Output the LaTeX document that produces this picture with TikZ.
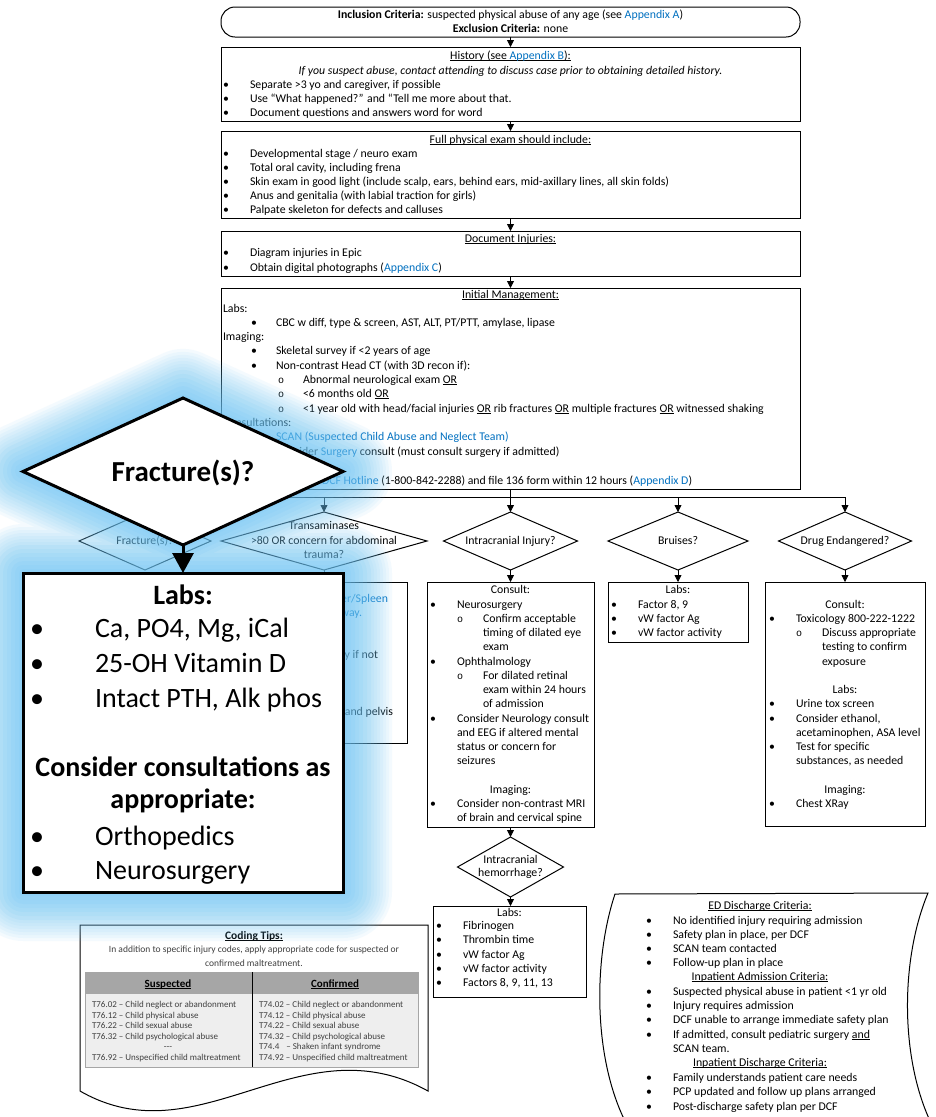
\documentclass[tikz,border=0pt]{standalone}
\usepackage{fontspec}
\setmainfont{Carlito}
\newfontfamily\ringfont{Liberation Mono}
\usetikzlibrary{arrows.meta,shapes.geometric}

\definecolor{linkblue}{RGB}{0,112,192}
\definecolor{glowc}{RGB}{110,198,246}
\definecolor{tipgray}{RGB}{64,64,64}
\definecolor{hdrgray}{RGB}{166,166,166}
\definecolor{rowgray}{RGB}{238,238,238}

\newcommand{\lnk}[1]{\textcolor{linkblue}{#1}}
% underline at a fixed depth below the baseline
\newsavebox{\ulbox}
\newcommand{\uline}[1]{\leavevmode\sbox{\ulbox}{#1}\rlap{\rule[-1.8pt]{\wd\ulbox}{0.6pt}}\usebox{\ulbox}}
\newcounter{txtline}
% one line of text: left aligned, centred, right aligned (x, baseline y, text)
\newcommand{\LineL}[3]{\stepcounter{txtline}\node[txt,anchor=base west] (ln\arabic{txtline}) at (#1,#2) {#3};}
\newcommand{\LineC}[3]{\stepcounter{txtline}\node[txt,anchor=base] (ln\arabic{txtline}) at (#1,#2) {#3};}
\newcommand{\LineR}[3]{\stepcounter{txtline}\node[txt,anchor=base east] (ln\arabic{txtline}) at (#1,#2) {#3};}
% bullet x, text x, baseline y, text
\newcommand{\Bul}[4]{\LineC{#1}{#3}{•}\LineL{#2}{#3}{#4}}
\newcommand{\SubBul}[4]{\LineC{#1}{#3}{{\ringfont\fontsize{10}{10}\selectfont o}}\LineL{#2}{#3}{#4}}
% outline of the magnified callout (diamond + box), used for the glow
\newcommand{\calloutglow}[2]{%
  \path[fill=glowc, draw=glowc, line width=#1, line join=round, opacity=#2]
    (23,471) -- (183,398) -- (343,471) -- (183,545) -- cycle
    (23,573) rectangle (343,892);}

\begin{document}
\begin{tikzpicture}[x=1pt,y=-1pt,
  txt/.style={font=\fontsize{11.8}{14}\selectfont, inner sep=0, outer sep=0},
  box/.style={draw, line width=1pt, inner sep=0, outer sep=0, anchor=north west},
  dia/.style={diamond, draw, line width=1pt, inner sep=0, outer sep=0, fill=white},
  arr/.style={line width=0.8pt, -{Triangle[length=7pt,width=7pt]}},
  link/.style={line width=0.8pt},
  big/.style={font=\fontsize{28}{30}\selectfont, inner sep=0, outer sep=0},
  tip/.style={font=\fontsize{9}{10}\selectfont, text=tipgray, inner sep=0, outer sep=0}]

\fill[white] (0,0) rectangle (935,1117);
\useasboundingbox (0,0) rectangle (935,1117);

% ---------------- entry criteria ----------------
\node[box, rounded corners=14pt, minimum width=579pt, minimum height=30pt] (incl) at (221,7) {};
\LineC{510.5}{18}{\textbf{Inclusion Criteria:} suspected physical abuse of any age (see \lnk{Appendix A})}
\LineC{510.5}{32}{\textbf{Exclusion Criteria:} none}

% ---------------- history ----------------
\node[box, minimum width=579pt, minimum height=74pt] (hist) at (221,47) {};
\LineC{510.5}{59}{\uline{History (see \lnk{Appendix B}):}}
\LineC{510.5}{74}{\textit{If you suspect abuse, contact attending to discuss case prior to obtaining detailed history.}}
\Bul{226}{250}{88}{Separate >3 yo and caregiver, if possible}
\Bul{226}{250}{102}{Use “What happened?” and “Tell me more about that.}
\Bul{226}{250}{116}{Document questions and answers word for word}

% ---------------- physical exam ----------------
\node[box, minimum width=579pt, minimum height=87pt] (exam) at (221,131) {};
\LineC{510.5}{143}{\uline{Full physical exam should include:}}
\Bul{226}{250}{157}{Developmental stage / neuro exam}
\Bul{226}{250}{171}{Total oral cavity, including frena}
\Bul{226}{250}{185}{Skin exam in good light (include scalp, ears, behind ears, mid-axillary lines, all skin folds)}
\Bul{226}{250}{199}{Anus and genitalia (with labial traction for girls)}
\Bul{226}{250}{213}{Palpate skeleton for defects and calluses}

% ---------------- documentation ----------------
\node[box, minimum width=579pt, minimum height=45pt] (docu) at (221,231) {};
\LineC{510.5}{242}{\uline{Document Injuries:}}
\Bul{226}{250}{256}{Diagram injuries in Epic}
\Bul{226}{250}{271}{Obtain digital photographs (\lnk{Appendix C})}

% ---------------- initial management ----------------
\node[box, minimum width=579pt, minimum height=201pt] (init) at (221,288) {};
\LineC{510.5}{298}{\uline{Initial Management:}}
\LineL{223}{312}{Labs:}
\Bul{254}{276}{326}{CBC w diff, type \& screen, AST, ALT, PT/PTT, amylase, lipase}
\LineL{223}{340}{Imaging:}
\Bul{254}{276}{354}{Skeletal survey if <2 years of age}
\Bul{254}{276}{369}{Non-contrast Head CT (with 3D recon if):}
\SubBul{281}{303}{383}{Abnormal neurological exam \uline{OR}}
\SubBul{281}{303}{397}{<6 months old \uline{OR}}
\SubBul{281}{303}{412}{<1 year old with head/facial injuries \uline{OR} rib fractures \uline{OR} multiple fractures \uline{OR} witnessed shaking}
\LineL{223}{426}{Consultations:}
\Bul{254}{276}{440}{\lnk{SCAN (Suspected Child Abuse and Neglect Team)}}
\Bul{254}{276}{455}{Consider \lnk{Surgery} consult (must consult surgery if admitted)}
\LineL{322}{484}{\lnk{DCF Hotline} (1-800-842-2288) and file 136 form within 12 hours (\lnk{Appendix D})}

\draw[arr] (incl.south) -- (hist.north);
\draw[arr] (hist.south) -- (exam.north);
\draw[arr] (exam.south) -- (docu.north);
\draw[arr] (docu.south) -- (init.north);

% ---------------- decision row ----------------
\node[dia, minimum width=132pt, minimum height=58pt] (frD) at (145,541) {};
\node[dia, minimum width=206pt, minimum height=58pt] (trD) at (324,541) {};
\node[dia, minimum width=134pt, minimum height=58pt] (icD) at (510.5,541) {};
\node[dia, minimum width=140pt, minimum height=58pt] (brD) at (678,541) {};
\node[dia, minimum width=133pt, minimum height=58pt] (drD) at (845,541) {};
\LineC{145}{544}{Fracture(s)?}
\LineC{324}{529}{Transaminases}
\LineC{324}{544}{>80 OR concern for abdominal}
\LineC{324}{558}{trauma?}
\LineC{510.5}{544}{Intracranial Injury?}
\LineC{678}{544}{Bruises?}
\LineC{845}{544}{Drug Endangered?}

\coordinate (bus) at (510.5,497);
\draw[link] (init.south) -- (bus);
\draw[link] (frD.north |- bus) -- (drD.north |- bus);
\foreach \d in {frD,trD,icD,brD,drD} \draw[arr] (\d.north |- bus) -- (\d.north);

% ---------------- branch boxes ----------------
\node[box, minimum width=167pt, minimum height=161pt] (trB) at (240,582) {};
\LineR{388}{602}{\lnk{Liver/Spleen}}
\LineR{362}{616}{\lnk{Pathway.}}
\LineR{378}{658}{surgery if not}
\LineR{393}{715}{and pelvis}

\node[box, minimum width=167pt, minimum height=245pt] (icB) at (427,582) {};
\LineC{510.5}{593}{Consult:}
\Bul{433}{457}{608}{Neurosurgery}
\SubBul{460}{483}{622}{Confirm acceptable}
\LineL{483}{636}{timing of dilated eye}
\LineL{483}{650}{exam}
\Bul{433}{457}{665}{Ophthalmology}
\SubBul{460}{483}{679}{For dilated retinal}
\LineL{483}{693}{exam within 24 hours}
\LineL{483}{707}{of admission}
\Bul{433}{457}{722}{Consider Neurology consult}
\LineL{457}{736}{and EEG if altered mental}
\LineL{457}{750}{status or concern for}
\LineL{457}{764}{seizures}
\LineC{510.5}{793}{Imaging:}
\Bul{433}{457}{807}{Consider non-contrast MRI}
\LineL{457}{821}{of brain and cervical spine}

\node[box, minimum width=140pt, minimum height=60pt] (brB) at (608,582) {};
\LineC{678}{593}{Labs:}
\Bul{614}{638}{608}{Factor 8, 9}
\Bul{614}{638}{622}{vW factor Ag}
\Bul{614}{638}{636}{vW factor activity}

\node[box, minimum width=160pt, minimum height=244pt] (drB) at (765,582) {};
\LineC{845}{608}{Consult:}
\Bul{772}{796}{622}{Toxicology 800-222-1222}
\SubBul{799}{822}{636}{Discuss appropriate}
\LineL{822}{650}{testing to confirm}
\LineL{822}{665}{exposure}
\LineC{845}{693}{Labs:}
\Bul{772}{796}{707}{Urine tox screen}
\Bul{772}{796}{722}{Consider ethanol,}
\LineL{796}{736}{acetaminophen, ASA level}
\Bul{772}{796}{750}{Test for specific}
\LineL{796}{764}{substances, as needed}
\LineC{845}{793}{Imaging:}
\Bul{772}{796}{807}{Chest XRay}

\draw[arr] (trD.south) -- (trD.south |- trB.north);
\draw[arr] (icD.south) -- (icD.south |- icB.north);
\draw[arr] (brD.south) -- (brD.south |- brB.north);
\draw[arr] (drD.south) -- (drD.south |- drB.north);

% ---------------- haemorrhage branch ----------------
\node[dia, minimum width=106pt, minimum height=60pt] (ihD) at (510.5,867) {};
\LineC{510.5}{863}{Intracranial}
\LineC{510.5}{876}{hemorrhage?}
\node[box, minimum width=153pt, minimum height=91pt] (ihB) at (433,906) {};
\LineC{509.5}{916}{Labs:}
\Bul{439}{463}{929}{Fibrinogen}
\Bul{439}{463}{943}{Thrombin time}
\Bul{439}{463}{958}{vW factor Ag}
\Bul{439}{463}{972}{vW factor activity}
\Bul{439}{463}{986}{Factors 8, 9, 11, 13}
\draw[arr] (icB.south) -- (ihD.north);
\draw[arr] (ihD.south) -- (ihD.south |- ihB.north);

% ---------------- coding tips (document shape) ----------------
\draw[line width=1pt, fill=white] (80,925) -- (428,925) -- (428,1091)
  .. controls (300,1020) and (200,1160) .. (80,1091) -- cycle;
\node[txt, anchor=base, font=\fontsize{11.5}{14}\selectfont\bfseries] (ctT) at (254,939) {\uline{Coding Tips:}};
\node[tip, anchor=base, font=\fontsize{9.5}{11}\selectfont] (ct1) at (254,952) {In addition to specific injury codes, apply appropriate code for suspected or};
\node[tip, anchor=base, font=\fontsize{9.5}{11}\selectfont] (ct2) at (254,966) {confirmed maltreatment.};
\fill[hdrgray] (85,972) rectangle (418,994);
\fill[rowgray] (85,994) rectangle (418,1067);
\draw[gray!70, line width=0.5pt] (85,972) rectangle (418,1067);
\draw[line width=1pt] (252,972) -- (252,1067);
\node[txt, anchor=base, font=\fontsize{11}{13}\selectfont\bfseries] (hS) at (168,987) {\uline{Suspected}};
\node[txt, anchor=base, font=\fontsize{11}{13}\selectfont\bfseries] (hC) at (335,987) {\uline{Confirmed}};
\node[tip, anchor=base west] (s1) at (92,1007) {T76.02 – Child neglect or abandonment};
\node[tip, anchor=base west] (s2) at (92,1018) {T76.12 – Child physical abuse};
\node[tip, anchor=base west] (s3) at (92,1028) {T76.22 – Child sexual abuse};
\node[tip, anchor=base west] (s4) at (92,1039) {T76.32 – Child psychological abuse};
\node[tip, anchor=base] (s5) at (168,1049) {-{}-{}-};
\node[tip, anchor=base west] (s6) at (92,1060) {T76.92 – Unspecified child maltreatment};
\node[tip, anchor=base west] (c1) at (259,1007) {T74.02 – Child neglect or abandonment};
\node[tip, anchor=base west] (c2) at (259,1018) {T74.12 – Child physical abuse};
\node[tip, anchor=base west] (c3) at (259,1028) {T74.22 – Child sexual abuse};
\node[tip, anchor=base west] (c4) at (259,1039) {T74.32 – Child psychological abuse};
\node[tip, anchor=base west] (c5) at (259,1049) {T74.4\hspace{7pt}– Shaken infant syndrome};
\node[tip, anchor=base west] (c6) at (259,1060) {T74.92 – Unspecified child maltreatment};

% ---------------- discharge / admission criteria (stored-data shape) ----------------
\draw[line width=1pt, fill=white] (615,894) -- (928,893)
  .. controls (900,960) and (900,1060) .. (932,1125) -- (627,1125)
  .. controls (593,1060) and (593,960) .. (615,894) -- cycle;
\LineC{760}{909}{\uline{ED Discharge Criteria:}}
\Bul{649}{673}{924}{No identified injury requiring admission}
\Bul{649}{673}{938}{Safety plan in place, per DCF}
\Bul{649}{673}{952}{SCAN team contacted}
\Bul{649}{673}{966}{Follow-up plan in place}
\LineC{760}{980}{\uline{Inpatient Admission Criteria:}}
\Bul{649}{673}{995}{Suspected physical abuse in patient <1 yr old}
\Bul{649}{673}{1009}{Injury requires admission}
\Bul{649}{673}{1023}{DCF unable to arrange immediate safety plan}
\Bul{649}{673}{1038}{If admitted, consult pediatric surgery \uline{and}}
\LineL{673}{1052}{SCAN team.}
\LineC{760}{1066}{\uline{Inpatient Discharge Criteria:}}
\Bul{649}{673}{1081}{Family understands patient care needs}
\Bul{649}{673}{1095}{PCP updated and follow up plans arranged}
\Bul{649}{673}{1110}{Post-discharge safety plan per DCF}

% ---------------- magnified callout with soft glow ----------------
\foreach \w in {8,16,...,56} {\calloutglow{\w pt}{0.11}}
\foreach \w in {62,68,...,98} {\calloutglow{\w pt}{0.07}}

\node[diamond, draw, line width=3pt, fill=white, inner sep=0, outer sep=0,
      minimum width=320pt, minimum height=147pt] (bigD) at (183,471.5) {};
\node[big, anchor=base, font=\fontsize{29}{31}\selectfont\bfseries] (bigDt) at (183,481) {Fracture(s)?};
\node[draw, line width=3pt, fill=white, inner sep=0, outer sep=0, anchor=north west,
      minimum width=320pt, minimum height=319pt] (bigB) at (23,573) {};
\draw[line width=3pt, -{Triangle[length=20pt,width=21pt]}] (bigD.south) -- (bigB.north);

\node[big, anchor=base, font=\fontsize{28}{30}\selectfont\bfseries] (bl0) at (183,604) {Labs:};
\node[big, anchor=base] (bb1) at (37,637) {•};
\node[big, anchor=base west] (bl1) at (95,637) {Ca, PO4, Mg, iCal};
\node[big, anchor=base] (bb2) at (37,672) {•};
\node[big, anchor=base west] (bl2) at (95,672) {25-OH Vitamin D};
\node[big, anchor=base] (bb3) at (37,707) {•};
\node[big, anchor=base west] (bl3) at (95,707) {Intact PTH, Alk phos};
\node[big, anchor=base, font=\fontsize{28}{30}\selectfont\bfseries] (bl4) at (183,776) {Consider consultations as};
\node[big, anchor=base, font=\fontsize{28}{30}\selectfont\bfseries] (bl5) at (183,808) {appropriate:};
\node[big, anchor=base] (bb6) at (37,845) {•};
\node[big, anchor=base west] (bl6) at (95,845) {Orthopedics};
\node[big, anchor=base] (bb7) at (37,879) {•};
\node[big, anchor=base west] (bl7) at (95,879) {Neurosurgery};
\end{tikzpicture}
\end{document}
